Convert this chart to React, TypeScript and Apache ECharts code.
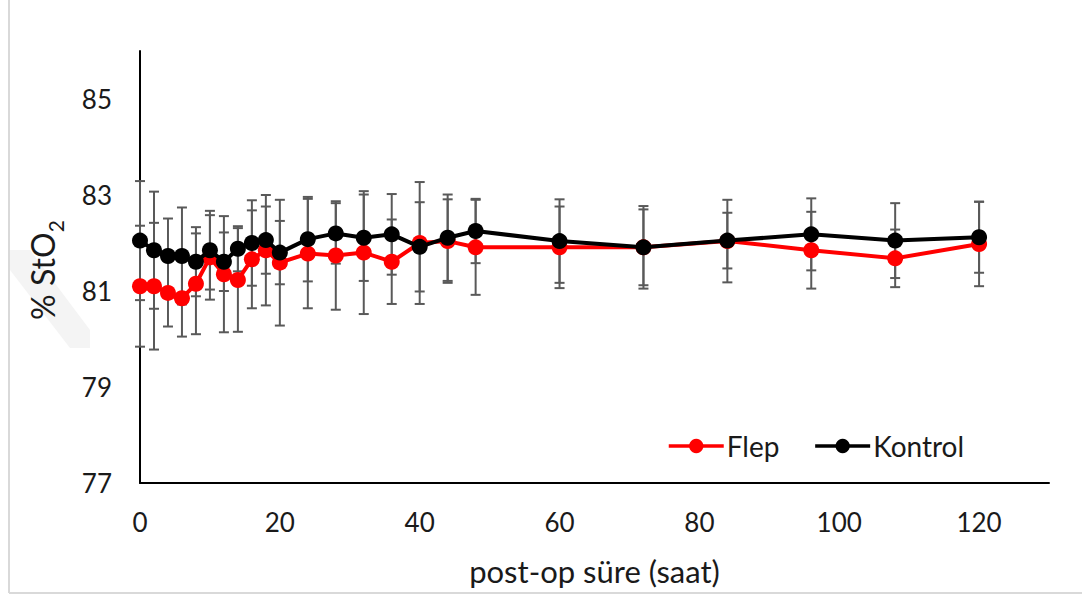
import React, { useEffect, useRef } from "react";
import * as echarts from "echarts";

const hours = [0, 2, 4, 6, 8, 10, 12, 14, 16, 18, 20, 24, 28, 32, 36, 40, 44, 48, 60, 72, 84, 96, 108, 120];
const flepMean = [81.10, 81.10, 80.96, 80.85, 81.15, 81.70, 81.35, 81.23, 81.66, 81.85, 81.59, 81.78, 81.74, 81.80, 81.61, 82.00, 82.04, 81.91, 81.91, 81.91, 82.04, 81.85, 81.68, 81.98];
const flepSd = [1.26, 1.32, 0.70, 0.80, 1.05, 0.88, 1.21, 1.08, 1.02, 1.15, 1.31, 1.14, 1.13, 1.28, 0.88, 1.27, 0.87, 0.99, 0.85, 0.86, 0.86, 0.80, 0.60, 0.88];
const kontrolMean = [82.05, 81.85, 81.73, 81.73, 81.61, 81.85, 81.61, 81.88, 82.00, 82.06, 81.80, 82.08, 82.20, 82.11, 82.18, 81.92, 82.11, 82.25, 82.04, 81.91, 82.05, 82.18, 82.05, 82.12];
const kontrolSd = [1.24, 1.22, 0.78, 1.01, 0.72, 0.82, 0.61, 0.47, 0.89, 0.70, 0.66, 0.88, 0.63, 0.90, 0.84, 0.93, 0.90, 0.67, 0.87, 0.79, 0.58, 0.75, 0.78, 0.74];
const yTickLabels = [77, 79, 81, 83, 85];
const xTickLabels = [0, 20, 40, 60, 80, 100, 120];
const seriesNames = ["Flep", "Kontrol"];
const xTitle = "post-op süre (saat)";

const FONT = "Lato, 'Open Sans', sans-serif";

export default function App() {
  const ref = useRef<HTMLDivElement>(null);
  useEffect(() => {
    if (!ref.current) return;
    const chart = echarts.init(ref.current, undefined, { renderer: "svg" });
    const errData = (means: number[], sds: number[]) =>
      hours.map((h, i) => [h, means[i] - sds[i], means[i] + sds[i]]);
    const renderErr = (params: any, api: any) => {
      const x = api.value(0);
      const top = api.coord([x, api.value(2)]);
      const bot = api.coord([x, api.value(1)]);
      const w = 5;
      const style = { stroke: "#595959", lineWidth: 2 };
      return {
        type: "group",
        children: [
          { type: "line", shape: { x1: top[0], y1: top[1], x2: bot[0], y2: bot[1] }, style },
          { type: "line", shape: { x1: top[0] - w, y1: top[1], x2: top[0] + w, y2: top[1] }, style },
          { type: "line", shape: { x1: bot[0] - w, y1: bot[1], x2: bot[0] + w, y2: bot[1] }, style },
        ],
      };
    };
    chart.setOption({
      animation: false,
      backgroundColor: "#ffffff",
      grid: { left: 140, right: 33, top: 51, bottom: 113 },
      xAxis: {
        type: "value",
        min: 0,
        max: 130,
        interval: 20,
        name: xTitle,
        nameLocation: "middle",
        nameGap: 72,
        nameTextStyle: { fontSize: 31, fontFamily: FONT, color: "#1a1a1a" },
        axisLine: { show: true, lineStyle: { color: "#000", width: 2 } },
        axisTick: { show: false },
        splitLine: { show: false },
        axisLabel: {
          fontSize: 26,
          fontFamily: FONT,
          color: "#1a1a1a",
          margin: 26,
          formatter: (v: number) => (xTickLabels.includes(v) ? String(v) : ""),
        },
      },
      yAxis: {
        type: "value",
        min: 77,
        max: 86,
        interval: 2,
        axisLine: { show: true, lineStyle: { color: "#000", width: 2 } },
        axisTick: { show: false },
        splitLine: { show: false },
        axisLabel: {
          fontSize: 26,
          fontFamily: FONT,
          color: "#1a1a1a",
          margin: 28,
          formatter: (v: number) => (yTickLabels.includes(v) ? String(v) : ""),
        },
      },
      legend: {
        data: seriesNames,
        left: 667,
        top: 432,
        padding: 0,
        itemWidth: 55,
        itemHeight: 18,
        itemGap: 34,
        lineStyle: { width: 3.5 },
        textStyle: { fontSize: 28, fontFamily: FONT, color: "#1a1a1a", padding: [0, 0, 0, -2] },
      },
      graphic: [
        { type: "line", shape: { x1: 9, y1: 0, x2: 9, y2: 593 }, style: { stroke: "#d9d9d9", lineWidth: 2 }, silent: true },
        { type: "line", shape: { x1: 9, y1: 593, x2: 1082, y2: 593 }, style: { stroke: "#d9d9d9", lineWidth: 2 }, silent: true },
        {
          type: "polygon",
          shape: { points: [[10, 250], [30, 250], [90, 330], [90, 348], [70, 348], [10, 270]] },
          style: { fill: "#f4f4f4" },
          silent: true,
          z: -10,
        },
        {
          type: "text",
          x: 46,
          y: 270,
          rotation: Math.PI / 2,
          silent: true,
          style: {
            text: "{m|% StO}{s|2}",
            align: "center",
            verticalAlign: "middle",
            rich: {
              m: { fontSize: 32, fontFamily: FONT, fill: "#1a1a1a", verticalAlign: "bottom", padding: [0, 0, 8, 0] },
              s: { fontSize: 21, fontFamily: FONT, fill: "#1a1a1a", verticalAlign: "bottom" },
            },
          },
        },
      ],
      series: [
        {
          type: "custom",
          name: "FlepErr",
          renderItem: renderErr,
          data: errData(flepMean, flepSd),
          encode: { x: 0, y: [1, 2] },
          z: 1,
          silent: true,
        },
        {
          type: "custom",
          name: "KontrolErr",
          renderItem: renderErr,
          data: errData(kontrolMean, kontrolSd),
          encode: { x: 0, y: [1, 2] },
          z: 1,
          silent: true,
        },
        {
          type: "line",
          name: seriesNames[0],
          data: hours.map((h, i) => [h, flepMean[i]]),
          symbol: "circle",
          symbolSize: 16,
          lineStyle: { color: "#ff0000", width: 4 },
          itemStyle: { color: "#ff0000" },
          z: 3,
        },
        {
          type: "line",
          name: seriesNames[1],
          data: hours.map((h, i) => [h, kontrolMean[i]]),
          symbol: "circle",
          symbolSize: 16,
          lineStyle: { color: "#000000", width: 4 },
          itemStyle: { color: "#000000" },
          z: 4,
        },
      ],
    });
    return () => chart.dispose();
  }, []);
  return (
    <div
      ref={ref}
      style={{ position: "absolute", left: 0, top: 0, width: 1082, height: 596, background: "#fff" }}
    />
  );
}
